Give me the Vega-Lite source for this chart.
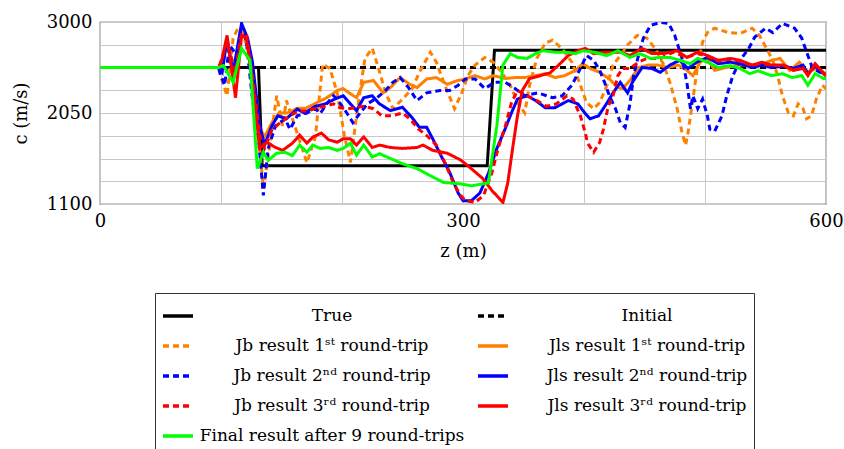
{
  "$schema": "https://vega.github.io/schema/vega-lite/v6.json",
  "autosize": {"type": "none"},
  "padding": {"left": 100, "top": 22, "right": 18, "bottom": 245},
  "width": 726,
  "height": 182,
  "config": {
    "font": "DejaVu Serif",
    "view": {"stroke": "#333333", "strokeWidth": 1.2},
    "axis": {"labelFont": "DejaVu Serif", "titleFont": "DejaVu Serif", "labelFontSize": 18, "titleFontSize": 18, "titleFontWeight": "normal", "labelColor": "black", "titleColor": "black", "gridColor": "#c8c8c8", "gridWidth": 1, "gridOpacity": 1, "domain": false, "ticks": false}
  },
  "data": {"values": [
    {"s":"T","z":0,"c":2525},{"s":"T","z":131,"c":2525},{"s":"T","z":134,"c":1500},{"s":"T","z":320,"c":1500},{"s":"T","z":326,"c":2705},{"s":"T","z":600,"c":2705},
    {"s":"I","z":0,"c":2525},{"s":"I","z":600,"c":2525},
    {"s":"b1","z":0,"c":2525},{"s":"b1","z":98,"c":2525},{"s":"b1","z":99,"c":2460},{"s":"b1","z":105,"c":2230},{"s":"b1","z":110,"c":2830},{"s":"b1","z":114,"c":2935},{"s":"b1","z":118,"c":2860},{"s":"b1","z":125,"c":2650},{"s":"b1","z":131,"c":1815},{"s":"b1","z":135,"c":1260},{"s":"b1","z":140,"c":1680},{"s":"b1","z":146,"c":2230},{"s":"b1","z":151,"c":1915},{"s":"b1","z":154,"c":2180},{"s":"b1","z":161,"c":1915},{"s":"b1","z":171,"c":1530},{"s":"b1","z":178,"c":1800},{"s":"b1","z":184,"c":2560},{"s":"b1","z":190,"c":2515},{"s":"b1","z":196,"c":2260},{"s":"b1","z":202,"c":1815},{"s":"b1","z":207,"c":1535},{"s":"b1","z":212,"c":2020},{"s":"b1","z":217,"c":2460},{"s":"b1","z":219,"c":2620},{"s":"b1","z":225,"c":2725},{"s":"b1","z":230,"c":2525},{"s":"b1","z":236,"c":2260},{"s":"b1","z":242,"c":2095},{"s":"b1","z":250,"c":2195},{"s":"b1","z":258,"c":2305},{"s":"b1","z":264,"c":2475},{"s":"b1","z":273,"c":2685},{"s":"b1","z":278,"c":2580},{"s":"b1","z":285,"c":2340},{"s":"b1","z":293,"c":2095},{"s":"b1","z":299,"c":2260},{"s":"b1","z":304,"c":2440},{"s":"b1","z":310,"c":2550},{"s":"b1","z":318,"c":2630},{"s":"b1","z":325,"c":2580},{"s":"b1","z":332,"c":2475},{"s":"b1","z":339,"c":2340},{"s":"b1","z":345,"c":2160},{"s":"b1","z":351,"c":2050},{"s":"b1","z":355,"c":2340},{"s":"b1","z":361,"c":2620},{"s":"b1","z":368,"c":2780},{"s":"b1","z":374,"c":2810},{"s":"b1","z":382,"c":2720},{"s":"b1","z":390,"c":2580},{"s":"b1","z":397,"c":2340},{"s":"b1","z":402,"c":2160},{"s":"b1","z":408,"c":2095},{"s":"b1","z":413,"c":2160},{"s":"b1","z":419,"c":2340},{"s":"b1","z":424,"c":2550},{"s":"b1","z":430,"c":2650},{"s":"b1","z":436,"c":2760},{"s":"b1","z":444,"c":2860},{"s":"b1","z":452,"c":2830},{"s":"b1","z":459,"c":2720},{"s":"b1","z":466,"c":2550},{"s":"b1","z":471,"c":2370},{"s":"b1","z":477,"c":2095},{"s":"b1","z":481,"c":1845},{"s":"b1","z":484,"c":1715},{"s":"b1","z":486,"c":1845},{"s":"b1","z":490,"c":2195},{"s":"b1","z":494,"c":2550},{"s":"b1","z":498,"c":2790},{"s":"b1","z":502,"c":2890},{"s":"b1","z":508,"c":2935},{"s":"b1","z":519,"c":2890},{"s":"b1","z":529,"c":2880},{"s":"b1","z":539,"c":2935},{"s":"b1","z":545,"c":2860},{"s":"b1","z":551,"c":2720},{"s":"b1","z":556,"c":2600},{"s":"b1","z":560,"c":2440},{"s":"b1","z":564,"c":2230},{"s":"b1","z":569,"c":2050},{"s":"b1","z":573,"c":2020},{"s":"b1","z":577,"c":2145},{"s":"b1","z":581,"c":2095},{"s":"b1","z":584,"c":1990},{"s":"b1","z":588,"c":2020},{"s":"b1","z":592,"c":2195},{"s":"b1","z":597,"c":2340},{"s":"b1","z":600,"c":2300},
    {"s":"l1","z":0,"c":2525},{"s":"l1","z":98,"c":2525},{"s":"l1","z":101,"c":2560},{"s":"l1","z":105,"c":2800},{"s":"l1","z":110,"c":2450},{"s":"l1","z":117,"c":2900},{"s":"l1","z":122,"c":2800},{"s":"l1","z":126,"c":2500},{"s":"l1","z":132,"c":1900},{"s":"l1","z":136,"c":1800},{"s":"l1","z":142,"c":1950},{"s":"l1","z":148,"c":2050},{"s":"l1","z":155,"c":2050},{"s":"l1","z":163,"c":2100},{"s":"l1","z":170,"c":2100},{"s":"l1","z":178,"c":2150},{"s":"l1","z":186,"c":2200},{"s":"l1","z":190,"c":2230},{"s":"l1","z":196,"c":2285},{"s":"l1","z":201,"c":2305},{"s":"l1","z":207,"c":2250},{"s":"l1","z":212,"c":2210},{"s":"l1","z":218,"c":2370},{"s":"l1","z":226,"c":2390},{"s":"l1","z":234,"c":2260},{"s":"l1","z":240,"c":2315},{"s":"l1","z":248,"c":2420},{"s":"l1","z":256,"c":2350},{"s":"l1","z":262,"c":2315},{"s":"l1","z":270,"c":2405},{"s":"l1","z":278,"c":2420},{"s":"l1","z":287,"c":2350},{"s":"l1","z":296,"c":2390},{"s":"l1","z":302,"c":2405},{"s":"l1","z":310,"c":2440},{"s":"l1","z":318,"c":2405},{"s":"l1","z":325,"c":2440},{"s":"l1","z":335,"c":2410},{"s":"l1","z":343,"c":2420},{"s":"l1","z":351,"c":2420},{"s":"l1","z":360,"c":2440},{"s":"l1","z":368,"c":2460},{"s":"l1","z":376,"c":2420},{"s":"l1","z":384,"c":2440},{"s":"l1","z":393,"c":2495},{"s":"l1","z":399,"c":2565},{"s":"l1","z":405,"c":2515},{"s":"l1","z":413,"c":2475},{"s":"l1","z":421,"c":2405},{"s":"l1","z":428,"c":2315},{"s":"l1","z":432,"c":2305},{"s":"l1","z":438,"c":2390},{"s":"l1","z":445,"c":2525},{"s":"l1","z":453,"c":2550},{"s":"l1","z":461,"c":2550},{"s":"l1","z":469,"c":2525},{"s":"l1","z":478,"c":2550},{"s":"l1","z":485,"c":2495},{"s":"l1","z":490,"c":2440},{"s":"l1","z":496,"c":2580},{"s":"l1","z":502,"c":2620},{"s":"l1","z":508,"c":2495},{"s":"l1","z":517,"c":2525},{"s":"l1","z":527,"c":2550},{"s":"l1","z":539,"c":2550},{"s":"l1","z":548,"c":2565},{"s":"l1","z":555,"c":2600},{"s":"l1","z":562,"c":2620},{"s":"l1","z":570,"c":2495},{"s":"l1","z":578,"c":2580},{"s":"l1","z":585,"c":2475},{"s":"l1","z":592,"c":2515},{"s":"l1","z":600,"c":2440},
    {"s":"b2","z":0,"c":2525},{"s":"b2","z":98,"c":2525},{"s":"b2","z":99,"c":2475},{"s":"b2","z":103,"c":2340},{"s":"b2","z":107,"c":2760},{"s":"b2","z":113,"c":2650},{"s":"b2","z":117,"c":2965},{"s":"b2","z":121,"c":2790},{"s":"b2","z":126,"c":2195},{"s":"b2","z":131,"c":1780},{"s":"b2","z":135,"c":1190},{"s":"b2","z":139,"c":1680},{"s":"b2","z":145,"c":1915},{"s":"b2","z":153,"c":1990},{"s":"b2","z":157,"c":1880},{"s":"b2","z":163,"c":2020},{"s":"b2","z":171,"c":2050},{"s":"b2","z":178,"c":2095},{"s":"b2","z":182,"c":2045},{"s":"b2","z":188,"c":2155},{"s":"b2","z":193,"c":2230},{"s":"b2","z":196,"c":2195},{"s":"b2","z":204,"c":2050},{"s":"b2","z":209,"c":1950},{"s":"b2","z":215,"c":2050},{"s":"b2","z":221,"c":2145},{"s":"b2","z":229,"c":2210},{"s":"b2","z":236,"c":2285},{"s":"b2","z":242,"c":2370},{"s":"b2","z":248,"c":2420},{"s":"b2","z":255,"c":2315},{"s":"b2","z":262,"c":2180},{"s":"b2","z":270,"c":2260},{"s":"b2","z":281,"c":2285},{"s":"b2","z":289,"c":2285},{"s":"b2","z":296,"c":2340},{"s":"b2","z":302,"c":2405},{"s":"b2","z":310,"c":2405},{"s":"b2","z":318,"c":2305},{"s":"b2","z":326,"c":2370},{"s":"b2","z":335,"c":2370},{"s":"b2","z":343,"c":2305},{"s":"b2","z":351,"c":2230},{"s":"b2","z":362,"c":2260},{"s":"b2","z":374,"c":2210},{"s":"b2","z":382,"c":2230},{"s":"b2","z":390,"c":2340},{"s":"b2","z":397,"c":2515},{"s":"b2","z":402,"c":2650},{"s":"b2","z":408,"c":2600},{"s":"b2","z":413,"c":2495},{"s":"b2","z":417,"c":2370},{"s":"b2","z":421,"c":2230},{"s":"b2","z":426,"c":2095},{"s":"b2","z":430,"c":1950},{"s":"b2","z":434,"c":1900},{"s":"b2","z":438,"c":2145},{"s":"b2","z":441,"c":2440},{"s":"b2","z":445,"c":2650},{"s":"b2","z":449,"c":2830},{"s":"b2","z":455,"c":2965},{"s":"b2","z":463,"c":2995},{"s":"b2","z":470,"c":2985},{"s":"b2","z":475,"c":2860},{"s":"b2","z":481,"c":2620},{"s":"b2","z":485,"c":2370},{"s":"b2","z":488,"c":2095},{"s":"b2","z":490,"c":2230},{"s":"b2","z":494,"c":2095},{"s":"b2","z":498,"c":2195},{"s":"b2","z":502,"c":2020},{"s":"b2","z":504,"c":1880},{"s":"b2","z":508,"c":1860},{"s":"b2","z":514,"c":2020},{"s":"b2","z":518,"c":2230},{"s":"b2","z":523,"c":2440},{"s":"b2","z":530,"c":2620},{"s":"b2","z":536,"c":2720},{"s":"b2","z":541,"c":2840},{"s":"b2","z":550,"c":2935},{"s":"b2","z":556,"c":2890},{"s":"b2","z":564,"c":2985},{"s":"b2","z":574,"c":2935},{"s":"b2","z":580,"c":2830},{"s":"b2","z":584,"c":2685},{"s":"b2","z":589,"c":2515},{"s":"b2","z":595,"c":2475},{"s":"b2","z":600,"c":2460},
    {"s":"l2","z":0,"c":2525},{"s":"l2","z":98,"c":2525},{"s":"l2","z":101,"c":2475},{"s":"l2","z":105,"c":2830},{"s":"l2","z":110,"c":2475},{"s":"l2","z":117,"c":2985},{"s":"l2","z":122,"c":2830},{"s":"l2","z":126,"c":2580},{"s":"l2","z":132,"c":1915},{"s":"l2","z":136,"c":1715},{"s":"l2","z":142,"c":1915},{"s":"l2","z":147,"c":2020},{"s":"l2","z":154,"c":1990},{"s":"l2","z":163,"c":2090},{"s":"l2","z":169,"c":2050},{"s":"l2","z":178,"c":2120},{"s":"l2","z":186,"c":2145},{"s":"l2","z":194,"c":2195},{"s":"l2","z":201,"c":2230},{"s":"l2","z":207,"c":2145},{"s":"l2","z":212,"c":2075},{"s":"l2","z":218,"c":2210},{"s":"l2","z":225,"c":2230},{"s":"l2","z":231,"c":2145},{"s":"l2","z":240,"c":2075},{"s":"l2","z":250,"c":2110},{"s":"l2","z":258,"c":2000},{"s":"l2","z":264,"c":1900},{"s":"l2","z":270,"c":1900},{"s":"l2","z":275,"c":1780},{"s":"l2","z":282,"c":1600},{"s":"l2","z":289,"c":1430},{"s":"l2","z":296,"c":1215},{"s":"l2","z":300,"c":1135},{"s":"l2","z":307,"c":1135},{"s":"l2","z":314,"c":1215},{"s":"l2","z":321,"c":1420},{"s":"l2","z":328,"c":1680},{"s":"l2","z":335,"c":1890},{"s":"l2","z":340,"c":2050},{"s":"l2","z":345,"c":2195},{"s":"l2","z":353,"c":2230},{"s":"l2","z":360,"c":2180},{"s":"l2","z":368,"c":2105},{"s":"l2","z":376,"c":2105},{"s":"l2","z":387,"c":2180},{"s":"l2","z":395,"c":2145},{"s":"l2","z":401,"c":2045},{"s":"l2","z":405,"c":1990},{"s":"l2","z":412,"c":2020},{"s":"l2","z":419,"c":2155},{"s":"l2","z":424,"c":2260},{"s":"l2","z":430,"c":2370},{"s":"l2","z":436,"c":2260},{"s":"l2","z":440,"c":2370},{"s":"l2","z":448,"c":2525},{"s":"l2","z":456,"c":2515},{"s":"l2","z":463,"c":2475},{"s":"l2","z":471,"c":2550},{"s":"l2","z":479,"c":2600},{"s":"l2","z":486,"c":2515},{"s":"l2","z":493,"c":2580},{"s":"l2","z":502,"c":2630},{"s":"l2","z":511,"c":2565},{"s":"l2","z":521,"c":2580},{"s":"l2","z":529,"c":2565},{"s":"l2","z":539,"c":2525},{"s":"l2","z":547,"c":2550},{"s":"l2","z":555,"c":2525},{"s":"l2","z":565,"c":2540},{"s":"l2","z":573,"c":2515},{"s":"l2","z":581,"c":2550},{"s":"l2","z":585,"c":2460},{"s":"l2","z":591,"c":2540},{"s":"l2","z":600,"c":2440},
    {"s":"b3","z":0,"c":2525},{"s":"b3","z":98,"c":2525},{"s":"b3","z":99,"c":2545},{"s":"b3","z":105,"c":2790},{"s":"b3","z":112,"c":2475},{"s":"b3","z":116,"c":2830},{"s":"b3","z":121,"c":2880},{"s":"b3","z":126,"c":2440},{"s":"b3","z":132,"c":1815},{"s":"b3","z":136,"c":1680},{"s":"b3","z":142,"c":1870},{"s":"b3","z":149,"c":1950},{"s":"b3","z":157,"c":2020},{"s":"b3","z":164,"c":2070},{"s":"b3","z":172,"c":2070},{"s":"b3","z":179,"c":2105},{"s":"b3","z":186,"c":2120},{"s":"b3","z":193,"c":2145},{"s":"b3","z":198,"c":2105},{"s":"b3","z":205,"c":2095},{"s":"b3","z":211,"c":2105},{"s":"b3","z":218,"c":2120},{"s":"b3","z":226,"c":2095},{"s":"b3","z":233,"c":2020},{"s":"b3","z":241,"c":2020},{"s":"b3","z":250,"c":2050},{"s":"b3","z":256,"c":1990},{"s":"b3","z":263,"c":1885},{"s":"b3","z":270,"c":1815},{"s":"b3","z":278,"c":1715},{"s":"b3","z":285,"c":1535},{"s":"b3","z":292,"c":1320},{"s":"b3","z":298,"c":1190},{"s":"b3","z":302,"c":1135},{"s":"b3","z":310,"c":1115},{"s":"b3","z":317,"c":1190},{"s":"b3","z":324,"c":1430},{"s":"b3","z":329,"c":1680},{"s":"b3","z":335,"c":1915},{"s":"b3","z":340,"c":2155},{"s":"b3","z":345,"c":2285},{"s":"b3","z":353,"c":2230},{"s":"b3","z":361,"c":2180},{"s":"b3","z":369,"c":2120},{"s":"b3","z":377,"c":2145},{"s":"b3","z":386,"c":2230},{"s":"b3","z":391,"c":2195},{"s":"b3","z":397,"c":2020},{"s":"b3","z":401,"c":1845},{"s":"b3","z":403,"c":1735},{"s":"b3","z":408,"c":1640},{"s":"b3","z":413,"c":1745},{"s":"b3","z":416,"c":1880},{"s":"b3","z":420,"c":2120},{"s":"b3","z":424,"c":2230},{"s":"b3","z":428,"c":2440},{"s":"b3","z":432,"c":2515},{"s":"b3","z":438,"c":2515},{"s":"b3","z":445,"c":2580},{"s":"b3","z":452,"c":2620},{"s":"b3","z":463,"c":2620},{"s":"b3","z":474,"c":2685},{"s":"b3","z":485,"c":2630},{"s":"b3","z":494,"c":2670},{"s":"b3","z":502,"c":2640},{"s":"b3","z":511,"c":2590},{"s":"b3","z":521,"c":2610},{"s":"b3","z":529,"c":2590},{"s":"b3","z":539,"c":2545},{"s":"b3","z":547,"c":2570},{"s":"b3","z":555,"c":2545},{"s":"b3","z":565,"c":2545},{"s":"b3","z":573,"c":2500},{"s":"b3","z":581,"c":2520},{"s":"b3","z":585,"c":2450},{"s":"b3","z":591,"c":2555},{"s":"b3","z":600,"c":2445},
    {"s":"l3","z":0,"c":2525},{"s":"l3","z":98,"c":2525},{"s":"l3","z":101,"c":2620},{"s":"l3","z":105,"c":2860},{"s":"l3","z":112,"c":2210},{"s":"l3","z":117,"c":2860},{"s":"l3","z":121,"c":2830},{"s":"l3","z":126,"c":2370},{"s":"l3","z":132,"c":1680},{"s":"l3","z":138,"c":1745},{"s":"l3","z":145,"c":1690},{"s":"l3","z":151,"c":1660},{"s":"l3","z":159,"c":1735},{"s":"l3","z":165,"c":1820},{"s":"l3","z":171,"c":1735},{"s":"l3","z":176,"c":1800},{"s":"l3","z":183,"c":1840},{"s":"l3","z":189,"c":1770},{"s":"l3","z":196,"c":1745},{"s":"l3","z":201,"c":1780},{"s":"l3","z":207,"c":1780},{"s":"l3","z":212,"c":1715},{"s":"l3","z":218,"c":1800},{"s":"l3","z":225,"c":1690},{"s":"l3","z":231,"c":1715},{"s":"l3","z":240,"c":1690},{"s":"l3","z":250,"c":1680},{"s":"l3","z":262,"c":1690},{"s":"l3","z":267,"c":1715},{"s":"l3","z":275,"c":1660},{"s":"l3","z":287,"c":1630},{"s":"l3","z":298,"c":1560},{"s":"l3","z":304,"c":1500},{"s":"l3","z":316,"c":1370},{"s":"l3","z":324,"c":1240},{"s":"l3","z":333,"c":1115},{"s":"l3","z":337,"c":1320},{"s":"l3","z":341,"c":1680},{"s":"l3","z":345,"c":2020},{"s":"l3","z":349,"c":2285},{"s":"l3","z":355,"c":2410},{"s":"l3","z":364,"c":2440},{"s":"l3","z":372,"c":2470},{"s":"l3","z":379,"c":2550},{"s":"l3","z":387,"c":2650},{"s":"l3","z":395,"c":2700},{"s":"l3","z":401,"c":2725},{"s":"l3","z":408,"c":2670},{"s":"l3","z":419,"c":2685},{"s":"l3","z":430,"c":2685},{"s":"l3","z":438,"c":2650},{"s":"l3","z":448,"c":2725},{"s":"l3","z":456,"c":2670},{"s":"l3","z":466,"c":2670},{"s":"l3","z":477,"c":2700},{"s":"l3","z":485,"c":2630},{"s":"l3","z":494,"c":2685},{"s":"l3","z":502,"c":2650},{"s":"l3","z":511,"c":2600},{"s":"l3","z":521,"c":2620},{"s":"l3","z":529,"c":2600},{"s":"l3","z":539,"c":2550},{"s":"l3","z":547,"c":2580},{"s":"l3","z":555,"c":2550},{"s":"l3","z":565,"c":2550},{"s":"l3","z":573,"c":2495},{"s":"l3","z":581,"c":2515},{"s":"l3","z":585,"c":2440},{"s":"l3","z":591,"c":2565},{"s":"l3","z":600,"c":2440},
    {"s":"F","z":0,"c":2525},{"s":"F","z":98,"c":2525},{"s":"F","z":102,"c":2545},{"s":"F","z":110,"c":2370},{"s":"F","z":117,"c":2725},{"s":"F","z":124,"c":2600},{"s":"F","z":130,"c":1470},{"s":"F","z":135,"c":1640},{"s":"F","z":139,"c":1555},{"s":"F","z":146,"c":1630},{"s":"F","z":153,"c":1640},{"s":"F","z":159,"c":1605},{"s":"F","z":165,"c":1715},{"s":"F","z":171,"c":1640},{"s":"F","z":176,"c":1715},{"s":"F","z":182,"c":1680},{"s":"F","z":189,"c":1690},{"s":"F","z":196,"c":1660},{"s":"F","z":201,"c":1680},{"s":"F","z":207,"c":1735},{"s":"F","z":212,"c":1610},{"s":"F","z":218,"c":1715},{"s":"F","z":225,"c":1590},{"s":"F","z":231,"c":1625},{"s":"F","z":240,"c":1575},{"s":"F","z":250,"c":1520},{"s":"F","z":262,"c":1470},{"s":"F","z":273,"c":1395},{"s":"F","z":284,"c":1325},{"s":"F","z":298,"c":1310},{"s":"F","z":307,"c":1290},{"s":"F","z":321,"c":1320},{"s":"F","z":328,"c":1920},{"s":"F","z":333,"c":2550},{"s":"F","z":339,"c":2670},{"s":"F","z":345,"c":2630},{"s":"F","z":353,"c":2620},{"s":"F","z":360,"c":2670},{"s":"F","z":366,"c":2700},{"s":"F","z":376,"c":2685},{"s":"F","z":384,"c":2685},{"s":"F","z":393,"c":2670},{"s":"F","z":399,"c":2700},{"s":"F","z":408,"c":2685},{"s":"F","z":419,"c":2650},{"s":"F","z":428,"c":2700},{"s":"F","z":438,"c":2630},{"s":"F","z":446,"c":2670},{"s":"F","z":455,"c":2620},{"s":"F","z":463,"c":2630},{"s":"F","z":471,"c":2630},{"s":"F","z":479,"c":2600},{"s":"F","z":488,"c":2565},{"s":"F","z":494,"c":2620},{"s":"F","z":502,"c":2580},{"s":"F","z":511,"c":2525},{"s":"F","z":521,"c":2545},{"s":"F","z":529,"c":2515},{"s":"F","z":537,"c":2460},{"s":"F","z":544,"c":2490},{"s":"F","z":555,"c":2440},{"s":"F","z":564,"c":2460},{"s":"F","z":572,"c":2420},{"s":"F","z":580,"c":2440},{"s":"F","z":585,"c":2340},{"s":"F","z":591,"c":2460},{"s":"F","z":598,"c":2410},{"s":"F","z":600,"c":2410}
  ]},
  "mark": {"type": "line", "strokeWidth": 3, "clip": true, "strokeJoin": "miter", "strokeCap": "butt"},
  "encoding": {
    "x": {"field": "z", "type": "quantitative", "scale": {"domain": [0, 600], "nice": false, "zero": false},
      "axis": {"title": "z (m)", "values": [0, 100, 200, 300, 400, 500, 600], "labelExpr": "datum.value % 300 === 0 ? datum.label : ''", "labelPadding": 8, "titlePadding": 12, "labelFlush": false}},
    "y": {"field": "c", "type": "quantitative", "scale": {"domain": [1100, 3000], "nice": false, "zero": false},
      "axis": {"title": "c (m/s)", "values": [1100, 1337.5, 1575, 1812.5, 2050, 2287.5, 2525, 2762.5, 3000], "labelExpr": "(datum.value === 1100 || datum.value === 2050 || datum.value === 3000) ? datum.label : ''", "format": "d", "labelPadding": 8, "titlePadding": 16, "labelFlush": false}},
    "color": {"field": "s", "type": "nominal",
      "scale": {"domain": ["T", "b1", "b2", "b3", "F", "I", "l1", "l2", "l3"], "range": ["#000000", "#FF8000", "#0000FF", "#FF0000", "#00FF00", "#000000", "#FF8000", "#0000FF", "#FF0000"]},
      "legend": {"title": null, "orient": "none", "legendX": 55, "legendY": 271, "columns": 2, "columnPadding": 6, "rowPadding": 5, "padding": 6, "strokeColor": "#333333", "fillColor": "white", "symbolType": "stroke", "symbolSize": 900, "symbolStrokeWidth": 3.5, "labelFont": "DejaVu Serif", "labelFontSize": 17, "labelColor": "black", "labelLimit": 500, "labelOffset": 137, "labelAlign": "center",
        "labelExpr": "{'T': 'True', 'I': 'Initial', 'b1': 'Jb result 1ˢᵗ round-trip', 'l1': 'Jls result 1ˢᵗ round-trip', 'b2': 'Jb result 2ⁿᵈ round-trip', 'l2': 'Jls result 2ⁿᵈ round-trip', 'b3': 'Jb result 3ʳᵈ round-trip', 'l3': 'Jls result 3ʳᵈ round-trip', 'F': 'Final result after 9 round-trips'}[datum.value]"}},
    "strokeDash": {"field": "s", "type": "nominal",
      "scale": {"domain": ["T", "b1", "b2", "b3", "F", "I", "l1", "l2", "l3"], "range": [[1, 0], [6, 4], [6, 4], [6, 4], [1, 0], [6, 4], [1, 0], [1, 0], [1, 0]]},
      "legend": {"title": null, "orient": "none", "legendX": 55, "legendY": 271, "columns": 2, "columnPadding": 6, "rowPadding": 5, "padding": 6, "strokeColor": "#333333", "fillColor": "white", "symbolType": "stroke", "symbolSize": 900, "symbolStrokeWidth": 3.5, "labelFont": "DejaVu Serif", "labelFontSize": 17, "labelColor": "black", "labelLimit": 500, "labelOffset": 137, "labelAlign": "center",
        "labelExpr": "{'T': 'True', 'I': 'Initial', 'b1': 'Jb result 1ˢᵗ round-trip', 'l1': 'Jls result 1ˢᵗ round-trip', 'b2': 'Jb result 2ⁿᵈ round-trip', 'l2': 'Jls result 2ⁿᵈ round-trip', 'b3': 'Jb result 3ʳᵈ round-trip', 'l3': 'Jls result 3ʳᵈ round-trip', 'F': 'Final result after 9 round-trips'}[datum.value]"}}
  }
}
